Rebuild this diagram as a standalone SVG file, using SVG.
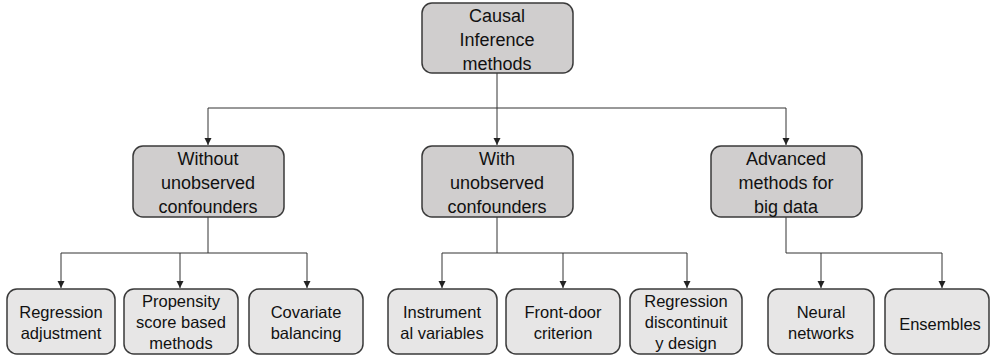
<svg xmlns="http://www.w3.org/2000/svg" width="990" height="358" viewBox="0 0 990 358">
<defs>
<style>
.top rect{fill:#d0cece;stroke:#3a3a3a;stroke-width:1.5}
.leaf rect{fill:#e7e6e6;stroke:#3a3a3a;stroke-width:1.5}
text{font-family:"Liberation Sans",Arial,sans-serif;font-size:18px;fill:#111;text-anchor:middle}
.leaf text{font-size:16.5px}
.conn path{fill:none;stroke:#333;stroke-width:1}
</style>
<marker id="ah" markerWidth="8" markerHeight="8" refX="7" refY="4" orient="auto" markerUnits="userSpaceOnUse">
<path d="M0,0.5 L7,4 L0,7.5 Z" fill="#222"/>
</marker>
</defs>
<rect width="990" height="358" fill="#fff"/>
<g class="conn">
<path d="M497,73 V108 H208 V145" marker-end="url(#ah)"/>
<path d="M497,108 V145" marker-end="url(#ah)"/>
<path d="M497,108 H786 V145" marker-end="url(#ah)"/>
<path d="M208,217 V253 H61 V288" marker-end="url(#ah)"/>
<path d="M180,253 V288" marker-end="url(#ah)"/>
<path d="M208,253 H307 V288" marker-end="url(#ah)"/>
<path d="M497,217 V253 H442 V288" marker-end="url(#ah)"/>
<path d="M497,253 H687 V288" marker-end="url(#ah)"/>
<path d="M563,253 V288" marker-end="url(#ah)"/>
<path d="M786,217 V253 H942 V288" marker-end="url(#ah)"/>
<path d="M821,253 V288" marker-end="url(#ah)"/>
</g>
<g id="root" class="top"><rect x="422" y="3" width="151" height="70" rx="10"/><text x="497" y="22">Causal</text><text x="497" y="46">Inference</text><text x="497" y="70">methods</text></g>
<g id="without" class="top"><rect x="133" y="146" width="151" height="71" rx="10"/><text x="208" y="165">Without</text><text x="208" y="189">unobserved</text><text x="208" y="213">confounders</text></g>
<g id="with" class="top"><rect x="422" y="146" width="151" height="71" rx="10"/><text x="497" y="165">With</text><text x="497" y="189">unobserved</text><text x="497" y="213">confounders</text></g>
<g id="advanced" class="top"><rect x="711" y="146" width="151" height="71" rx="10"/><text x="786" y="165">Advanced</text><text x="786" y="189">methods for</text><text x="786" y="213">big data</text></g>
<g id="regadj" class="leaf"><rect x="7" y="289" width="108" height="65" rx="10"/><text x="61" y="318">Regression</text><text x="61" y="339">adjustment</text></g>
<g id="propensity" class="leaf"><rect x="124" y="289" width="114" height="65" rx="10"/><text x="181" y="307">Propensity</text><text x="181" y="328">score based</text><text x="181" y="349">methods</text></g>
<g id="covariate" class="leaf"><rect x="249" y="289" width="114" height="65" rx="10"/><text x="306" y="318">Covariate</text><text x="306" y="339">balancing</text></g>
<g id="instrumental" class="leaf"><rect x="388" y="289" width="109" height="65" rx="10"/><text x="442" y="318">Instrument</text><text x="442" y="339">al variables</text></g>
<g id="frontdoor" class="leaf"><rect x="506" y="289" width="114" height="65" rx="10"/><text x="563" y="318">Front-door</text><text x="563" y="339">criterion</text></g>
<g id="rdd" class="leaf"><rect x="630" y="289" width="112" height="65" rx="10"/><text x="686" y="307">Regression</text><text x="686" y="328">discontinuit</text><text x="686" y="349">y design</text></g>
<g id="neural" class="leaf"><rect x="768" y="289" width="106" height="65" rx="10"/><text x="821" y="318">Neural</text><text x="821" y="339">networks</text></g>
<g id="ensembles" class="leaf"><rect x="885" y="289" width="104" height="65" rx="10"/><text x="940" y="330">Ensembles</text></g>
</svg>
